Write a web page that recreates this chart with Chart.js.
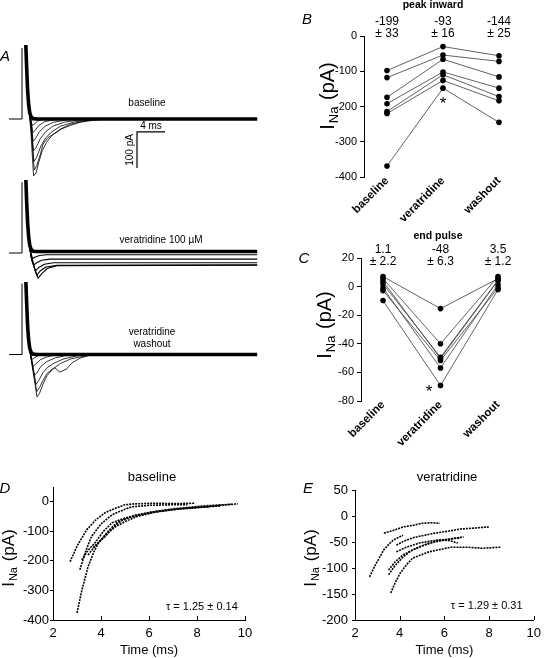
<!DOCTYPE html>
<html>
<head>
<meta charset="utf-8"/>
<title>INa veratridine</title>
<script src="https://cdn.jsdelivr.net/npm/chart.js@4.4.0/dist/chart.umd.min.js"></script>
<style>
body { margin: 0; background: #fff; }
#fig { position: relative; width: 547px; height: 658px; overflow: hidden; background: #fff; }
#fig canvas { position: absolute; left: 0; top: 0; }
</style>
</head>
<body>
<div id="fig">
	<canvas id="a1" width="547" height="658"></canvas>
	<canvas id="a2" width="547" height="658"></canvas>
	<canvas id="a3" width="547" height="658"></canvas>
	<canvas id="b" width="547" height="658"></canvas>
	<canvas id="c" width="547" height="658"></canvas>
	<canvas id="d" width="547" height="658"></canvas>
	<canvas id="e" width="547" height="658"></canvas>
</div>

<script>
// ---- data ----
var conditions = ['baseline', 'veratridine', 'washout'];

// B: peak inward current, one value per cell (pA)
var peakBaseline    = [-98, -118, -174, -192, -214, -220, -369];
var peakVeratridine = [-30, -54, -66, -102, -110, -126, -148];
var peakWashout     = [-56, -72, -116, -148, -172, -184, -245];
var peakMean = ['-199', '-93', '-144'];
var peakSem  = ['33', '16', '25'];
var peakTicks = [-400, -300, -200, -100, 0];

// C: current at end of pulse (pA)
var endBaseline    = [7, 5.6, 3.7, 1.9, -0.9, -2.8, -9.8];
var endVeratridine = [-15.4, -40, -50.3, -49.4, -56.9, -51.7, -69.2];
var endWashout     = [5.6, 7, 4.2, 4.5, 1.4, -0.9, -2.1];
var endMean = ['1.1', '-48', '3.5'];
var endSem  = ['2.2', '6.3', '1.2'];
var endTicks = [-80, -60, -40, -20, 0, 20];

// A: current traces, [ms after step, pA]
var preStep = [[-1.86, 0], [0, 0], [0, 197]];
var transientBase = [[0.5, 230], [0.65, 150], [0.8, 80], [0.95, 40], [1.1, 18], [1.3, 6], [1.6, 1], [2.2, 0], [33.6, 0]];
var transientVera = [[0.5, 230], [0.65, 150], [0.8, 85], [0.95, 45], [1.1, 22], [1.3, 10], [1.6, 5], [2.2, 4], [33.6, 4]];
var baselineTraces = [
	[[1.0, 25], [1.25, 0], [1.45, -18], [1.7, -15], [2.2, -6], [3, -1], [4, 0]],
	[[1.0, 25], [1.3, -5], [1.55, -38], [1.8, -33], [2.4, -18], [3.2, -8], [4.5, -2], [6, 0]],
	[[1.0, 25], [1.3, -10], [1.6, -62], [1.9, -55], [2.5, -35], [3.3, -20], [4.5, -9], [6.5, -2], [8, 0]],
	[[1.0, 25], [1.3, -15], [1.65, -88], [2.0, -80], [2.6, -55], [3.4, -35], [4.4, -20], [6, -9], [8, -3], [10, 0]],
	[[1.0, 25], [1.3, -20], [1.7, -118], [2.05, -108], [2.7, -75], [3.4, -52], [4.3, -35], [5.5, -20], [7.5, -8], [10, -2], [12, 0]],
	[[1.0, 25], [1.3, -25], [1.75, -142], [2.1, -130], [2.6, -100], [3.0, -70], [3.7, -52], [4.7, -40], [5.7, -27], [6.9, -18], [8.3, -9], [10.4, -3], [12, 0]],
	[[1.0, 25], [1.25, -30], [1.65, -158], [2.0, -150], [2.4, -120], [2.9, -88], [3.5, -65], [4.3, -45], [5.5, -28], [7, -14], [9, -5], [11, 0]]
];
var veratridineTraces = [
	[[1.0, 25], [1.3, 0], [1.5, -16], [1.8, -12], [2.5, -7], [3.5, -5], [33.6, -5]],
	[[1.0, 25], [1.3, -5], [1.7, -33], [2.1, -27], [2.8, -20], [4, -17], [33.6, -17]],
	[[1.0, 25], [1.3, -10], [1.9, -50], [2.4, -40], [3.2, -31], [4.5, -27], [33.6, -27]],
	[[1.0, 25], [1.35, -15], [2.1, -62], [2.6, -50], [3.4, -39], [5, -34], [33.6, -33]],
	[[1.0, 25], [1.4, -20], [2.3, -70], [2.8, -58], [3.6, -43], [5, -35], [33.6, -34]]
];
var washoutTraces = [
	[[1.0, 25], [1.25, 0], [1.4, -14], [1.7, -10], [2.3, -3], [3, 0]],
	[[1.0, 25], [1.3, -5], [1.6, -33], [1.9, -28], [2.6, -15], [3.5, -7], [5, 0]],
	[[1.0, 25], [1.3, -10], [1.8, -58], [2.1, -52], [2.7, -33], [3.5, -20], [4.8, -9], [6.5, -2], [8, 0]],
	[[1.0, 25], [1.35, -15], [2.0, -83], [2.4, -72], [3.0, -50], [3.7, -35], [4.6, -24], [6, -12], [8, -3], [10, 0]],
	[[1.0, 25], [1.4, -20], [2.1, -103], [2.5, -92], [3.0, -72], [3.5, -55], [4.0, -45], [4.7, -37], [5.4, -49], [6.4, -40], [7.1, -24], [8.3, -10], [9.5, -3], [11, 0]],
	[[1.0, 25], [1.4, -25], [2.15, -118], [2.5, -108], [3.0, -82], [3.6, -58], [4.4, -40], [5.5, -25], [7, -12], [9, -4], [11, 0]]
];
var scaleBarMs = 4, scaleBarPA = 100;

// D / E: decay phase of the current, [ms, pA]
var decayBaseline = [
	[[2.71, -203], [3.0, -150], [3.4, -95], [3.8, -60], [4.17, -37], [4.6, -22], [5.0, -10], [5.4, -7], [6.2, -5], [7.0, -6], [7.9, -5]],
	[[3.12, -230], [3.35, -170], [3.6, -118], [4.0, -75], [4.46, -44], [5.0, -25], [5.3, -17], [6.0, -12], [7.0, -10], [7.6, -10]],
	[[3.0, -376], [3.2, -300], [3.46, -220], [3.7, -170], [3.9, -139], [4.2, -110], [4.6, -85], [5.0, -67], [5.5, -50], [6.2, -36], [6.95, -27], [7.6, -21], [8.3, -17], [9.0, -12], [9.7, -7]],
	[[3.2, -197], [3.45, -165], [3.75, -139], [4.1, -100], [4.46, -71], [5.0, -55], [5.5, -44], [6.3, -32], [7.2, -24], [8.2, -18], [9.0, -14]],
	[[3.46, -180], [3.7, -155], [4.0, -129], [4.35, -95], [4.7, -68], [5.3, -50], [5.96, -37], [7, -24], [8.3, -14], [9.5, -8]],
	[[3.67, -156], [3.9, -137], [4.17, -118], [4.5, -88], [4.9, -61], [5.4, -48], [6.2, -35], [7.2, -25], [8.5, -17]]
];
var decayVeratridine = [
	[[3.29, -33], [3.7, -28], [4.15, -21], [4.6, -18], [5.0, -14], [5.4, -13], [5.8, -14]],
	[[2.65, -117], [2.9, -95], [3.29, -65], [3.5, -55], [3.72, -46], [4.15, -37]],
	[[3.5, -113], [3.8, -95], [4.15, -79], [4.5, -67], [4.88, -59], [5.57, -50], [6.3, -44], [6.86, -40]],
	[[3.6, -148], [3.8, -128], [4.02, -110], [4.3, -94], [4.58, -81], [5.3, -69], [6.3, -60], [7.0, -60], [7.7, -62], [8.5, -60]],
	[[3.85, -56], [4.2, -48], [4.58, -42], [5.0, -38], [5.57, -33], [6.2, -29], [6.73, -25], [7.4, -23], [8.0, -21]],
	[[3.5, -104], [3.8, -88], [4.15, -75], [4.5, -67], [4.88, -60], [5.3, -52], [5.74, -46], [6.2, -47], [6.6, -52]],
	[[3.85, -69], [4.3, -60], [4.88, -52], [5.4, -48], [5.87, -46], [6.3, -44], [6.73, -42]]
];
var tauBaseline = '1.25 ± 0.14';
var tauVeratridine = '1.29 ± 0.31';
var timeTicks = [2, 4, 6, 8, 10];
var decayTicksD = [-400, -300, -200, -100, 0];
var decayTicksE = [-200, -150, -100, -50, 0, 50];

// ---- helpers ----
Chart.defaults.font.family = '"Liberation Sans", Arial, Helvetica, sans-serif';
Chart.defaults.color = '#000';
Chart.defaults.animation = false;

var FONT = '"Liberation Sans", Arial, Helvetica, sans-serif';

function toXY(pts) {
	return pts.map(function (p) { return {x: p[0], y: p[1]}; });
}

function line(pts, width, dash) {
	return {data: toXY(pts), showLine: true, pointRadius: 0, borderColor: '#000',
		borderWidth: width, borderDash: dash || [], tension: 0};
}

function txt(ctx, s, x, y, font, align, rot) {
	ctx.save();
	ctx.font = font;
	ctx.fillStyle = '#000';
	ctx.textAlign = align || 'center';
	ctx.textBaseline = 'middle';
	ctx.translate(x, y);
	if (rot) ctx.rotate(rot);
	ctx.fillText(s, 0, 0);
	ctx.restore();
}

// rotated "I_Na (pA)" with subscript
function yTitle(ctx, x, y, size) {
	var big = size + 'px ' + FONT, small = Math.round(size * 0.65) + 'px ' + FONT;
	ctx.save();
	ctx.translate(x, y);
	ctx.rotate(-Math.PI / 2);
	ctx.fillStyle = '#000';
	ctx.textBaseline = 'middle';
	ctx.textAlign = 'left';
	ctx.font = big;
	var w1 = ctx.measureText('I').width, w3 = ctx.measureText(' (pA)').width;
	ctx.font = small;
	var w2 = ctx.measureText('Na').width;
	var x0 = -(w1 + w2 + w3 + 2) / 2;
	ctx.font = big;
	ctx.fillText('I', x0, 0);
	ctx.font = small;
	ctx.fillText('Na', x0 + w1 + 1, size * 0.32);
	ctx.font = big;
	ctx.fillText(' (pA)', x0 + w1 + w2 + 2, 0);
	ctx.restore();
}

function baseOptions(pad) {
	return {
		responsive: false,
		animation: false,
		layout: {padding: pad},
		plugins: {legend: {display: false}, tooltip: {enabled: false}},
		events: []
	};
}

// ---- A: three families of traces, hidden axes, 7 px per ms, 0.36 px per pA ----
function traceChart(id, zeroPx, topPx, bottomPx, thin, thick, thinW, extras, drawText) {
	var ds = [line(preStep, 1)];
	thin.forEach(function (t) { ds.push(line(t, thinW)); });
	ds.push(line(thick, 3.6));
	(extras || []).forEach(function (e) { ds.push(e); });
	var opt = baseOptions({left: 0, right: 547 - 267, top: topPx, bottom: 658 - bottomPx});
	opt.scales = {
		x: {type: 'linear', display: false, min: -22 / 7, max: (267 - 22) / 7},
		y: {type: 'linear', display: false, min: -(bottomPx - zeroPx) / 0.36, max: (zeroPx - topPx) / 0.36}
	};
	return new Chart(document.getElementById(id), {
		type: 'scatter',
		data: {datasets: ds},
		options: opt,
		plugins: [{id: 'lab' + id, afterDraw: drawText}]
	});
}

var barAt = [16.43, -36];
var scaleBar = [[barAt[0] + scaleBarMs, barAt[1]], barAt, [barAt[0], barAt[1] - scaleBarPA]];

traceChart('a1', 119, 45, 185, baselineTraces, transientBase, 0.8, [line(scaleBar, 1.2)], function (chart) {
	var ctx = chart.ctx, xs = chart.scales.x, ys = chart.scales.y;
	txt(ctx, 'A', 5, 57, 'italic 15px ' + FONT);
	txt(ctx, 'baseline', 147, 103, '10px ' + FONT);
	txt(ctx, scaleBarMs + ' ms', xs.getPixelForValue(barAt[0] + scaleBarMs / 2), ys.getPixelForValue(barAt[1]) - 6, '10px ' + FONT);
	txt(ctx, scaleBarPA + ' pA', xs.getPixelForValue(barAt[0]) - 7, ys.getPixelForValue(barAt[1] - scaleBarPA / 2), '10px ' + FONT, 'center', -Math.PI / 2);
});
traceChart('a2', 253, 180, 290, veratridineTraces, transientVera, 1.1, [], function (chart) {
	txt(chart.ctx, 'veratridine 100 µM', 161, 240, '10px ' + FONT);
});
traceChart('a3', 354.5, 282, 412, washoutTraces, transientBase, 0.8, [], function (chart) {
	txt(chart.ctx, 'veratridine', 152, 332, '10px ' + FONT);
	txt(chart.ctx, 'washout', 152, 344, '10px ' + FONT);
});

// ---- B / C: paired values per cell ----
function pairedChart(id, area, yW, xMin, xMax, ticks, a, b, c, means, sems, statY, title, titleY, letterY, titleX, star, yTitleY) {
	var ds = [];
	for (var i = 0; i < a.length; i++) {
		ds.push({data: [{x: 0, y: a[i]}, {x: 1, y: b[i]}, {x: 2, y: c[i]}], showLine: true,
			borderColor: '#3a3a3a', borderWidth: 0.8, pointRadius: 2.8,
			pointBackgroundColor: '#000', pointBorderColor: '#000', pointBorderWidth: 0});
	}
	var xH = 70;
	var opt = baseOptions({left: area.l - yW, right: 547 - area.r, top: area.t, bottom: 658 - area.b - xH});
	opt.scales = {
		x: {type: 'linear', min: xMin, max: xMax,
			afterFit: function (s) { s.height = xH; },
			afterBuildTicks: function (s) { s.ticks = [0, 1, 2].map(function (v) { return {value: v}; }); },
			grid: {display: false, drawTicks: false}, border: {display: false},
			ticks: {callback: function (v) { return conditions[v]; }, minRotation: 45, maxRotation: 45,
				padding: -3, font: {size: 11.5, weight: 'bold'}}},
		y: {type: 'linear', min: ticks[0], max: ticks[ticks.length - 1],
			afterFit: function (s) { s.width = yW; },
			afterBuildTicks: function (s) { s.ticks = ticks.map(function (v) { return {value: v}; }); },
			grid: {drawOnChartArea: false, tickLength: 4, color: '#000'},
			border: {display: true, color: '#000', width: 1},
			ticks: {padding: 3, font: {size: 11}}}
	};
	return new Chart(document.getElementById(id), {
		type: 'scatter',
		data: {datasets: ds},
		options: opt,
		plugins: [{id: 'lab' + id, afterDraw: function (chart) {
			var ctx = chart.ctx, xs = chart.scales.x, ys = chart.scales.y;
			for (var k = 0; k < 3; k++) {
				var px = xs.getPixelForValue(k);
				txt(ctx, means[k], px, statY, '12px ' + FONT);
				txt(ctx, '± ' + sems[k], px, statY + 12, '12px ' + FONT);
			}
			txt(ctx, title, titleX, titleY, 'bold 10.5px ' + FONT);
			txt(ctx, id.toUpperCase(), area.l - 57, letterY, 'italic 15px ' + FONT);
			txt(ctx, '*', xs.getPixelForValue(star[0]), ys.getPixelForValue(star[1]) + 4, '17px ' + FONT);
			yTitle(ctx, area.l - 36, yTitleY, 20);
		}}]
	});
}

pairedChart('b', {l: 364, t: 36, r: 521, b: 177}, 64, -23 / 56, 2 + 22 / 56, peakTicks,
	peakBaseline, peakVeratridine, peakWashout, peakMean, peakSem, 22, 'peak inward', 5, 20, 433, [1, -182], 96);
pairedChart('c', {l: 361, t: 258, r: 521, b: 401}, 64, -22 / 57.5, 2.4, endTicks,
	endBaseline, endVeratridine, endWashout, endMean, endSem, 250, 'end pulse', 236, 259, 438, [0.8, -71], 325);

// ---- D / E: decay phase ----
function decayChart(id, area, yW, labelPad, ticksY, curves, title, titleX, tau, tauAt, letterX, titleYX) {
	var ds = curves.map(function (cv) { return line(cv, 1.6, [2, 1]); });
	var opt = baseOptions({left: area.l - yW, right: 547 - area.r, top: area.t, bottom: 658 - area.b - 38});
	opt.scales = {
		x: {type: 'linear', min: 2, max: 10,
			afterFit: function (s) { s.height = 38; },
			afterBuildTicks: function (s) { s.ticks = timeTicks.map(function (v) { return {value: v}; }); },
			grid: {display: false, drawTicks: false}, border: {display: true, color: '#000', width: 1},
			ticks: {padding: 6, font: {size: 13}},
			title: {display: true, text: 'Time (ms)', font: {size: 13}, padding: {top: 0, bottom: 0}}},
		y: {type: 'linear', min: area.yMin, max: area.yMax,
			afterFit: function (s) { s.width = yW; },
			afterBuildTicks: function (s) { s.ticks = ticksY.map(function (v) { return {value: v}; }); },
			grid: {drawOnChartArea: false, tickLength: 3, color: '#000'},
			border: {display: true, color: '#000', width: 1},
			ticks: {padding: labelPad, font: {size: 13}}}
	};
	return new Chart(document.getElementById(id), {
		type: 'scatter',
		data: {datasets: ds},
		options: opt,
		plugins: [{id: 'lab' + id, afterDraw: function (chart) {
			var ctx = chart.ctx, xs = chart.scales.x, ys = chart.scales.y;
			// inward ticks on the time axis
			ctx.save();
			ctx.strokeStyle = '#000';
			ctx.lineWidth = 1;
			ctx.beginPath();
			timeTicks.forEach(function (v) {
				var px = Math.round(xs.getPixelForValue(v)) + 0.5;
				ctx.moveTo(px, xs.top);
				ctx.lineTo(px, xs.top - 4);
			});
			ctx.stroke();
			ctx.restore();
			txt(ctx, title, titleX, 477, '13px ' + FONT);
			txt(ctx, id.toUpperCase(), letterX, 489, 'italic 15px ' + FONT);
			txt(ctx, 'τ = ' + tau, xs.getPixelForValue(tauAt[0]), ys.getPixelForValue(tauAt[1]), '11px ' + FONT, 'right');
			yTitle(ctx, titleYX, 558, 17);
		}}]
	});
}

decayChart('d', {l: 53, t: 487, r: 245, b: 620, yMin: -400, yMax: 50}, 53, 1, decayTicksD,
	decayBaseline, 'baseline', 152, tauBaseline, [9.7, -355], 5, 9);
decayChart('e', {l: 355, t: 490, r: 541, b: 620, yMin: -200, yMax: 50}, 80, 4, decayTicksE,
	decayVeratridine, 'veratridine', 447, tauVeratridine, [9.5, -173], 308, 311);
</script>
</body>
</html>
